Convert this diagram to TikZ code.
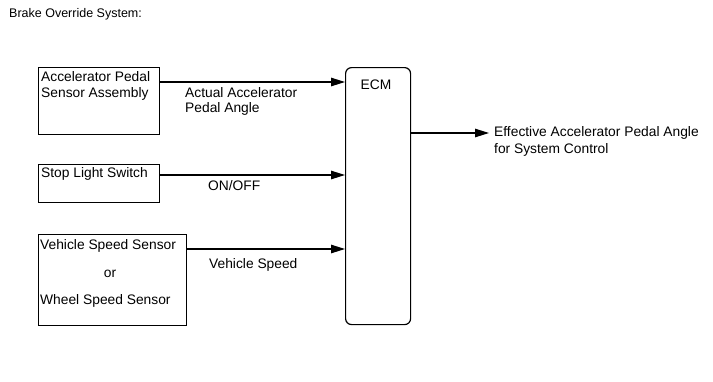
\documentclass[tikz,border=0pt]{standalone}
\usepackage{fontspec}
\setmainfont{Liberation Sans}
\usetikzlibrary{arrows.meta}
\begin{document}
\begin{tikzpicture}[x=1pt,y=-1pt,
  every node/.style={font=\fontsize{13.8}{16}\selectfont, inner sep=0pt},
  blk/.style={draw, line width=1.2pt, anchor=north west, minimum width=#1},
  lbl/.style={anchor=west, align=left},
  conn/.style={line width=1.2pt, -{Triangle[length=14pt,width=8.5pt]}}]
\useasboundingbox (0,0) rectangle (713,381);
\node[lbl, font=\fontsize{12.5}{15}\selectfont] (title) at (9,14) {Brake Override System:};
% boxes
\node[blk=121pt, minimum height=67pt] (b1) at (38,67) {};
\node[lbl] (t1) at (41,77) {Accelerator Pedal};
\node[lbl] (t1b) at (41,94) {Sensor Assembly};
\node[blk=121pt, minimum height=38pt] (b2) at (38,164) {};
\node[lbl] (t2) at (41,174) {Stop Light Switch};
\node[blk=148pt, minimum height=91pt] (b3) at (38,234) {};
\node[lbl] (t3) at (40,246) {Vehicle Speed Sensor};
\node (t3b) at (110,274) {or};
\node[lbl] (t3c) at (40,301) {Wheel Speed Sensor};
% ECM
\node[blk=65pt, minimum height=257pt, rounded corners=6pt] (ecm) at (345,67) {};
\node (ecmt) at (376,85) {ECM};
\coordinate (o) at (489,133);
\draw[conn] (b1.north east |- 0,82) -- (ecm.west |- 0,82);
\draw[conn] (b2.north east |- 0,175) -- (ecm.west |- 0,175);
\draw[conn] (b3.north east |- 0,249) -- (ecm.west |- 0,249);
\draw[conn] (ecm.east |- o) -- (o);
\node[lbl] (l1) at (185,93) {Actual Accelerator};
\node[lbl] (l1b) at (185,109) {Pedal Angle};
\node[lbl] (l2) at (208,186) {ON/OFF};
\node[lbl] (l3) at (209,265) {Vehicle Speed};
\node[lbl] (o1) at (494,133) {Effective Accelerator Pedal Angle};
\node[lbl] (o2) at (494,150) {for System Control};
\end{tikzpicture}
\end{document}
